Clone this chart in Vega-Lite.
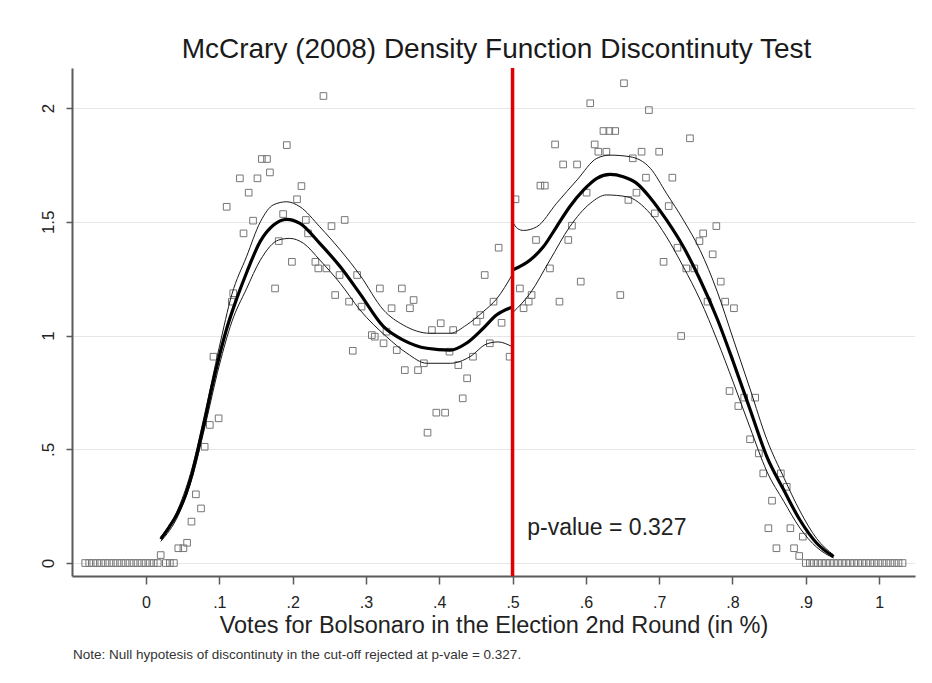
{
  "$schema": "https://vega.github.io/schema/vega-lite/v6.json",
  "background": "white",
  "padding": {"left": 39, "top": 36, "right": 17, "bottom": 20},
  "title": {
    "text": "Note: Null hypotesis of discontinuty in the cut-off rejected at p-vale = 0.327.",
    "orient": "bottom", "anchor": "start", "frame": "bounds", "offset": 22, "baseline": "alphabetic",
    "fontSize": 13.5, "fontWeight": "normal", "font": "Liberation Sans", "color": "#333333", "dx": 34
  },
  "datasets": {
    "bins": [
      {"x": -0.083, "y": 0}, {"x": -0.0775, "y": 0}, {"x": -0.072, "y": 0}, {"x": -0.0665, "y": 0}, {"x": -0.061, "y": 0},
      {"x": -0.0555, "y": 0}, {"x": -0.05, "y": 0}, {"x": -0.0445, "y": 0}, {"x": -0.039, "y": 0}, {"x": -0.0335, "y": 0},
      {"x": -0.028, "y": 0}, {"x": -0.0225, "y": 0}, {"x": -0.017, "y": 0}, {"x": -0.0115, "y": 0}, {"x": -0.006, "y": 0},
      {"x": -0.0005, "y": 0}, {"x": 0.005, "y": 0}, {"x": 0.0105, "y": 0}, {"x": 0.016, "y": 0}, {"x": 0.027, "y": 0},
      {"x": 0.0325, "y": 0}, {"x": 0.038, "y": 0},
      {"x": 0.020, "y": 0.035}, {"x": 0.044, "y": 0.065}, {"x": 0.051, "y": 0.065}, {"x": 0.056, "y": 0.089},
      {"x": 0.062, "y": 0.182}, {"x": 0.068, "y": 0.302}, {"x": 0.075, "y": 0.240}, {"x": 0.080, "y": 0.511},
      {"x": 0.087, "y": 0.607}, {"x": 0.092, "y": 0.907}, {"x": 0.099, "y": 0.636}, {"x": 0.110, "y": 1.566},
      {"x": 0.117, "y": 1.149}, {"x": 0.119, "y": 1.186}, {"x": 0.128, "y": 1.691}, {"x": 0.133, "y": 1.449},
      {"x": 0.140, "y": 1.628}, {"x": 0.146, "y": 1.505}, {"x": 0.152, "y": 1.691}, {"x": 0.158, "y": 1.776},
      {"x": 0.165, "y": 1.776}, {"x": 0.169, "y": 1.717}, {"x": 0.176, "y": 1.207}, {"x": 0.181, "y": 1.415},
      {"x": 0.187, "y": 1.534}, {"x": 0.192, "y": 1.837}, {"x": 0.199, "y": 1.324}, {"x": 0.206, "y": 1.599},
      {"x": 0.212, "y": 1.657}, {"x": 0.218, "y": 1.508}, {"x": 0.221, "y": 1.449}, {"x": 0.231, "y": 1.324},
      {"x": 0.235, "y": 1.295}, {"x": 0.242, "y": 2.053}, {"x": 0.246, "y": 1.295}, {"x": 0.253, "y": 1.481},
      {"x": 0.258, "y": 1.178}, {"x": 0.264, "y": 1.266}, {"x": 0.271, "y": 1.508}, {"x": 0.277, "y": 1.149},
      {"x": 0.282, "y": 0.933}, {"x": 0.288, "y": 1.266}, {"x": 0.294, "y": 1.127}, {"x": 0.308, "y": 1.002},
      {"x": 0.312, "y": 0.995}, {"x": 0.319, "y": 1.207}, {"x": 0.324, "y": 0.966}, {"x": 0.328, "y": 1.017},
      {"x": 0.335, "y": 1.120}, {"x": 0.342, "y": 0.936}, {"x": 0.349, "y": 1.207}, {"x": 0.353, "y": 0.848},
      {"x": 0.360, "y": 1.120}, {"x": 0.365, "y": 1.156}, {"x": 0.371, "y": 0.848}, {"x": 0.379, "y": 0.878},
      {"x": 0.384, "y": 0.573}, {"x": 0.390, "y": 1.024}, {"x": 0.396, "y": 0.661}, {"x": 0.402, "y": 1.054},
      {"x": 0.408, "y": 0.661}, {"x": 0.414, "y": 0.929}, {"x": 0.419, "y": 1.024}, {"x": 0.426, "y": 0.870},
      {"x": 0.432, "y": 0.724}, {"x": 0.438, "y": 0.812}, {"x": 0.446, "y": 0.907}, {"x": 0.451, "y": 1.061},
      {"x": 0.456, "y": 1.090}, {"x": 0.462, "y": 1.266}, {"x": 0.469, "y": 0.966}, {"x": 0.474, "y": 1.149},
      {"x": 0.481, "y": 1.386}, {"x": 0.485, "y": 1.056}, {"x": 0.496, "y": 0.907},
      {"x": 0.504, "y": 1.599}, {"x": 0.510, "y": 1.207}, {"x": 0.515, "y": 1.120}, {"x": 0.522, "y": 1.149},
      {"x": 0.526, "y": 1.178}, {"x": 0.532, "y": 1.420}, {"x": 0.538, "y": 1.659}, {"x": 0.544, "y": 1.659},
      {"x": 0.551, "y": 1.295}, {"x": 0.558, "y": 1.840}, {"x": 0.564, "y": 1.149}, {"x": 0.569, "y": 1.752},
      {"x": 0.576, "y": 1.420}, {"x": 0.581, "y": 1.483}, {"x": 0.588, "y": 1.752}, {"x": 0.593, "y": 1.237},
      {"x": 0.601, "y": 1.628}, {"x": 0.606, "y": 2.021}, {"x": 0.612, "y": 1.840}, {"x": 0.617, "y": 1.808},
      {"x": 0.624, "y": 1.899}, {"x": 0.628, "y": 1.808}, {"x": 0.632, "y": 1.899}, {"x": 0.640, "y": 1.899},
      {"x": 0.647, "y": 1.178}, {"x": 0.652, "y": 2.109}, {"x": 0.658, "y": 1.596}, {"x": 0.664, "y": 1.779},
      {"x": 0.669, "y": 1.628}, {"x": 0.676, "y": 1.808}, {"x": 0.682, "y": 1.694}, {"x": 0.686, "y": 1.991},
      {"x": 0.694, "y": 1.537}, {"x": 0.700, "y": 1.808}, {"x": 0.706, "y": 1.324}, {"x": 0.713, "y": 1.569},
      {"x": 0.718, "y": 1.694}, {"x": 0.725, "y": 1.386}, {"x": 0.730, "y": 0.998}, {"x": 0.737, "y": 1.295},
      {"x": 0.742, "y": 1.867}, {"x": 0.748, "y": 1.295}, {"x": 0.755, "y": 1.415}, {"x": 0.760, "y": 1.449},
      {"x": 0.766, "y": 1.149}, {"x": 0.773, "y": 1.357}, {"x": 0.778, "y": 1.481}, {"x": 0.784, "y": 1.237},
      {"x": 0.790, "y": 1.149}, {"x": 0.796, "y": 0.756}, {"x": 0.802, "y": 1.120}, {"x": 0.808, "y": 0.690},
      {"x": 0.816, "y": 0.727}, {"x": 0.824, "y": 0.544}, {"x": 0.831, "y": 0.727}, {"x": 0.836, "y": 0.482},
      {"x": 0.842, "y": 0.394}, {"x": 0.849, "y": 0.153}, {"x": 0.854, "y": 0.274}, {"x": 0.860, "y": 0.065},
      {"x": 0.866, "y": 0.394}, {"x": 0.874, "y": 0.335}, {"x": 0.879, "y": 0.153}, {"x": 0.884, "y": 0.065},
      {"x": 0.891, "y": 0.031}, {"x": 0.896, "y": 0.116},
      {"x": 0.900, "y": 0}, {"x": 0.9055, "y": 0}, {"x": 0.911, "y": 0}, {"x": 0.9165, "y": 0}, {"x": 0.922, "y": 0},
      {"x": 0.9275, "y": 0}, {"x": 0.933, "y": 0}, {"x": 0.9385, "y": 0}, {"x": 0.944, "y": 0}, {"x": 0.9495, "y": 0},
      {"x": 0.955, "y": 0}, {"x": 0.9605, "y": 0}, {"x": 0.966, "y": 0}, {"x": 0.9715, "y": 0}, {"x": 0.977, "y": 0},
      {"x": 0.9825, "y": 0}, {"x": 0.988, "y": 0}, {"x": 0.9935, "y": 0}, {"x": 0.999, "y": 0}, {"x": 1.0045, "y": 0},
      {"x": 1.010, "y": 0}, {"x": 1.0155, "y": 0}, {"x": 1.021, "y": 0}, {"x": 1.0265, "y": 0}, {"x": 1.032, "y": 0}
    ],
    "curves": [
      {"series": "fitL", "kind": "fit", "x": 0.020, "y": 0.105}, {"series": "fitL", "kind": "fit", "x": 0.032, "y": 0.160},
      {"series": "fitL", "kind": "fit", "x": 0.044, "y": 0.225}, {"series": "fitL", "kind": "fit", "x": 0.054, "y": 0.300},
      {"series": "fitL", "kind": "fit", "x": 0.063, "y": 0.395}, {"series": "fitL", "kind": "fit", "x": 0.071, "y": 0.500},
      {"series": "fitL", "kind": "fit", "x": 0.080, "y": 0.625}, {"series": "fitL", "kind": "fit", "x": 0.090, "y": 0.775},
      {"series": "fitL", "kind": "fit", "x": 0.100, "y": 0.910}, {"series": "fitL", "kind": "fit", "x": 0.110, "y": 1.030},
      {"series": "fitL", "kind": "fit", "x": 0.124, "y": 1.165}, {"series": "fitL", "kind": "fit", "x": 0.137, "y": 1.275},
      {"series": "fitL", "kind": "fit", "x": 0.156, "y": 1.415}, {"series": "fitL", "kind": "fit", "x": 0.174, "y": 1.486},
      {"series": "fitL", "kind": "fit", "x": 0.192, "y": 1.511}, {"series": "fitL", "kind": "fit", "x": 0.210, "y": 1.493},
      {"series": "fitL", "kind": "fit", "x": 0.237, "y": 1.405}, {"series": "fitL", "kind": "fit", "x": 0.265, "y": 1.302},
      {"series": "fitL", "kind": "fit", "x": 0.292, "y": 1.183}, {"series": "fitL", "kind": "fit", "x": 0.324, "y": 1.039},
      {"series": "fitL", "kind": "fit", "x": 0.351, "y": 0.980}, {"series": "fitL", "kind": "fit", "x": 0.383, "y": 0.944},
      {"series": "fitL", "kind": "fit", "x": 0.415, "y": 0.936}, {"series": "fitL", "kind": "fit", "x": 0.437, "y": 0.966},
      {"series": "fitL", "kind": "fit", "x": 0.460, "y": 1.032}, {"series": "fitL", "kind": "fit", "x": 0.478, "y": 1.090},
      {"series": "fitL", "kind": "fit", "x": 0.500, "y": 1.125},
      {"series": "upL", "kind": "ci", "x": 0.020, "y": 0.115}, {"series": "upL", "kind": "ci", "x": 0.044, "y": 0.240},
      {"series": "upL", "kind": "ci", "x": 0.063, "y": 0.420}, {"series": "upL", "kind": "ci", "x": 0.080, "y": 0.655},
      {"series": "upL", "kind": "ci", "x": 0.100, "y": 0.950}, {"series": "upL", "kind": "ci", "x": 0.117, "y": 1.180},
      {"series": "upL", "kind": "ci", "x": 0.137, "y": 1.346}, {"series": "upL", "kind": "ci", "x": 0.156, "y": 1.500},
      {"series": "upL", "kind": "ci", "x": 0.174, "y": 1.575}, {"series": "upL", "kind": "ci", "x": 0.192, "y": 1.588},
      {"series": "upL", "kind": "ci", "x": 0.210, "y": 1.566}, {"series": "upL", "kind": "ci", "x": 0.237, "y": 1.478},
      {"series": "upL", "kind": "ci", "x": 0.265, "y": 1.376}, {"series": "upL", "kind": "ci", "x": 0.292, "y": 1.265},
      {"series": "upL", "kind": "ci", "x": 0.324, "y": 1.112}, {"series": "upL", "kind": "ci", "x": 0.351, "y": 1.046},
      {"series": "upL", "kind": "ci", "x": 0.387, "y": 1.010}, {"series": "upL", "kind": "ci", "x": 0.415, "y": 1.010},
      {"series": "upL", "kind": "ci", "x": 0.437, "y": 1.046}, {"series": "upL", "kind": "ci", "x": 0.460, "y": 1.105},
      {"series": "upL", "kind": "ci", "x": 0.478, "y": 1.160}, {"series": "upL", "kind": "ci", "x": 0.500, "y": 1.270},
      {"series": "loL", "kind": "ci", "x": 0.020, "y": 0.095}, {"series": "loL", "kind": "ci", "x": 0.044, "y": 0.210},
      {"series": "loL", "kind": "ci", "x": 0.063, "y": 0.375}, {"series": "loL", "kind": "ci", "x": 0.080, "y": 0.595},
      {"series": "loL", "kind": "ci", "x": 0.100, "y": 0.870}, {"series": "loL", "kind": "ci", "x": 0.117, "y": 1.060},
      {"series": "loL", "kind": "ci", "x": 0.137, "y": 1.205}, {"series": "loL", "kind": "ci", "x": 0.156, "y": 1.332},
      {"series": "loL", "kind": "ci", "x": 0.181, "y": 1.420}, {"series": "loL", "kind": "ci", "x": 0.196, "y": 1.427},
      {"series": "loL", "kind": "ci", "x": 0.215, "y": 1.405}, {"series": "loL", "kind": "ci", "x": 0.237, "y": 1.332},
      {"series": "loL", "kind": "ci", "x": 0.265, "y": 1.229}, {"series": "loL", "kind": "ci", "x": 0.292, "y": 1.112},
      {"series": "loL", "kind": "ci", "x": 0.328, "y": 0.995}, {"series": "loL", "kind": "ci", "x": 0.356, "y": 0.922},
      {"series": "loL", "kind": "ci", "x": 0.383, "y": 0.878}, {"series": "loL", "kind": "ci", "x": 0.415, "y": 0.878},
      {"series": "loL", "kind": "ci", "x": 0.442, "y": 0.907}, {"series": "loL", "kind": "ci", "x": 0.464, "y": 0.962},
      {"series": "loL", "kind": "ci", "x": 0.480, "y": 0.972}, {"series": "loL", "kind": "ci", "x": 0.500, "y": 0.950},
      {"series": "fitR", "kind": "fit", "x": 0.500, "y": 1.288}, {"series": "fitR", "kind": "fit", "x": 0.524, "y": 1.332},
      {"series": "fitR", "kind": "fit", "x": 0.542, "y": 1.390}, {"series": "fitR", "kind": "fit", "x": 0.560, "y": 1.478},
      {"series": "fitR", "kind": "fit", "x": 0.578, "y": 1.566}, {"series": "fitR", "kind": "fit", "x": 0.597, "y": 1.640},
      {"series": "fitR", "kind": "fit", "x": 0.615, "y": 1.691}, {"series": "fitR", "kind": "fit", "x": 0.633, "y": 1.708},
      {"series": "fitR", "kind": "fit", "x": 0.651, "y": 1.698}, {"series": "fitR", "kind": "fit", "x": 0.669, "y": 1.670},
      {"series": "fitR", "kind": "fit", "x": 0.688, "y": 1.605}, {"series": "fitR", "kind": "fit", "x": 0.710, "y": 1.508},
      {"series": "fitR", "kind": "fit", "x": 0.733, "y": 1.390}, {"series": "fitR", "kind": "fit", "x": 0.756, "y": 1.244},
      {"series": "fitR", "kind": "fit", "x": 0.779, "y": 1.075}, {"series": "fitR", "kind": "fit", "x": 0.801, "y": 0.885},
      {"series": "fitR", "kind": "fit", "x": 0.824, "y": 0.675}, {"series": "fitR", "kind": "fit", "x": 0.847, "y": 0.467},
      {"series": "fitR", "kind": "fit", "x": 0.870, "y": 0.321}, {"series": "fitR", "kind": "fit", "x": 0.892, "y": 0.189},
      {"series": "fitR", "kind": "fit", "x": 0.915, "y": 0.087}, {"series": "fitR", "kind": "fit", "x": 0.938, "y": 0.028},
      {"series": "upR", "kind": "ci", "x": 0.500, "y": 1.500}, {"series": "upR", "kind": "ci", "x": 0.507, "y": 1.470},
      {"series": "upR", "kind": "ci", "x": 0.515, "y": 1.462}, {"series": "upR", "kind": "ci", "x": 0.533, "y": 1.478},
      {"series": "upR", "kind": "ci", "x": 0.560, "y": 1.581}, {"series": "upR", "kind": "ci", "x": 0.588, "y": 1.684},
      {"series": "upR", "kind": "ci", "x": 0.615, "y": 1.779}, {"series": "upR", "kind": "ci", "x": 0.633, "y": 1.793},
      {"series": "upR", "kind": "ci", "x": 0.660, "y": 1.786}, {"series": "upR", "kind": "ci", "x": 0.688, "y": 1.735},
      {"series": "upR", "kind": "ci", "x": 0.710, "y": 1.625}, {"series": "upR", "kind": "ci", "x": 0.733, "y": 1.508},
      {"series": "upR", "kind": "ci", "x": 0.756, "y": 1.374}, {"series": "upR", "kind": "ci", "x": 0.779, "y": 1.195},
      {"series": "upR", "kind": "ci", "x": 0.801, "y": 0.985}, {"series": "upR", "kind": "ci", "x": 0.824, "y": 0.765},
      {"series": "upR", "kind": "ci", "x": 0.847, "y": 0.542}, {"series": "upR", "kind": "ci", "x": 0.870, "y": 0.376},
      {"series": "upR", "kind": "ci", "x": 0.892, "y": 0.229}, {"series": "upR", "kind": "ci", "x": 0.915, "y": 0.107},
      {"series": "upR", "kind": "ci", "x": 0.938, "y": 0.035},
      {"series": "loR", "kind": "ci", "x": 0.500, "y": 1.100}, {"series": "loR", "kind": "ci", "x": 0.524, "y": 1.186},
      {"series": "loR", "kind": "ci", "x": 0.551, "y": 1.332}, {"series": "loR", "kind": "ci", "x": 0.578, "y": 1.478},
      {"series": "loR", "kind": "ci", "x": 0.606, "y": 1.581}, {"series": "loR", "kind": "ci", "x": 0.628, "y": 1.618},
      {"series": "loR", "kind": "ci", "x": 0.656, "y": 1.610}, {"series": "loR", "kind": "ci", "x": 0.688, "y": 1.535},
      {"series": "loR", "kind": "ci", "x": 0.710, "y": 1.434}, {"series": "loR", "kind": "ci", "x": 0.733, "y": 1.302},
      {"series": "loR", "kind": "ci", "x": 0.756, "y": 1.156}, {"series": "loR", "kind": "ci", "x": 0.779, "y": 0.980},
      {"series": "loR", "kind": "ci", "x": 0.801, "y": 0.795}, {"series": "loR", "kind": "ci", "x": 0.824, "y": 0.595},
      {"series": "loR", "kind": "ci", "x": 0.847, "y": 0.402}, {"series": "loR", "kind": "ci", "x": 0.870, "y": 0.271},
      {"series": "loR", "kind": "ci", "x": 0.892, "y": 0.154}, {"series": "loR", "kind": "ci", "x": 0.915, "y": 0.069},
      {"series": "loR", "kind": "ci", "x": 0.938, "y": 0.022}
    ]
  },
  "vconcat": [
    {
      "width": 843,
      "height": 508,
      "title": {
        "text": "McCrary (2008) Density Function Discontinuty Test",
        "anchor": "middle", "frame": "group", "offset": -20, "baseline": "alphabetic",
        "fontSize": 28, "fontWeight": "normal", "font": "Liberation Sans", "color": "#1a1a1a", "dx": 3
      },
      "layer": [
        {
          "data": {"name": "bins"},
          "mark": {"type": "point", "shape": "square", "filled": false, "size": 44, "strokeWidth": 1, "color": "#767676", "opacity": 1},
          "encoding": {
            "x": {
              "field": "x", "type": "quantitative",
              "scale": {"domain": [-0.101, 1.049], "nice": false, "zero": false},
              "axis": {
                "values": [0, 0.1, 0.2, 0.3, 0.4, 0.5, 0.6, 0.7, 0.8, 0.9, 1],
                "labelExpr": "datum.value == 0 ? '0' : datum.value == 1 ? '1' : replace(format(datum.value, '.1f'), '0.', '.')",
                "title": "Votes for Bolsonaro in the Election 2nd Round (in %)",
                "grid": false, "tickSize": 8, "labelPadding": 10, "titlePadding": 3,
                "labelFontSize": 16, "titleFontSize": 23.5
              }
            },
            "y": {
              "field": "y", "type": "quantitative",
              "scale": {"domain": [-0.057, 2.176], "nice": false, "zero": false},
              "axis": {
                "values": [0, 0.5, 1, 1.5, 2],
                "labelExpr": "datum.value == 0.5 ? '.5' : format(datum.value, '~g')",
                "title": null, "grid": true, "gridColor": "#e6e6e6", "gridWidth": 1,
                "labelAngle": 270, "labelAlign": "center", "labelBaseline": "bottom",
                "tickSize": 6, "labelPadding": 9, "labelFontSize": 17
              }
            }
          }
        },
        {
          "data": {"name": "curves"},
          "transform": [{"filter": "datum.kind == 'ci'"}],
          "mark": {"type": "line", "color": "#1a1a1a", "strokeWidth": 1, "interpolate": "monotone"},
          "encoding": {
            "x": {"field": "x", "type": "quantitative"},
            "y": {"field": "y", "type": "quantitative"},
            "detail": {"field": "series"}
          }
        },
        {
          "data": {"name": "curves"},
          "transform": [{"filter": "datum.kind == 'fit'"}],
          "mark": {"type": "line", "color": "#000000", "strokeWidth": 3.2, "interpolate": "monotone"},
          "encoding": {
            "x": {"field": "x", "type": "quantitative"},
            "y": {"field": "y", "type": "quantitative"},
            "detail": {"field": "series"}
          }
        },
        {
          "data": {"values": [{}]},
          "mark": {"type": "rule", "color": "#e00000", "strokeWidth": 3.5},
          "encoding": {"x": {"datum": 0.5}}
        },
        {
          "data": {"values": [{}]},
          "mark": {"type": "text", "text": "p-value = 0.327", "align": "left", "baseline": "alphabetic", "fontSize": 23, "color": "#222222", "font": "Liberation Sans"},
          "encoding": {"x": {"datum": 0.52}, "y": {"datum": 0.123}}
        }
      ]
    }
  ],
  "config": {
    "font": "Liberation Sans",
    "view": {"stroke": null},
    "axis": {
      "domainColor": "#5a5a5a", "domainWidth": 2, "tickColor": "#5a5a5a", "tickWidth": 1.5,
      "labelColor": "#222222", "titleColor": "#222222", "titleFontWeight": "normal",
      "labelFont": "Liberation Sans", "titleFont": "Liberation Sans"
    }
  }
}
